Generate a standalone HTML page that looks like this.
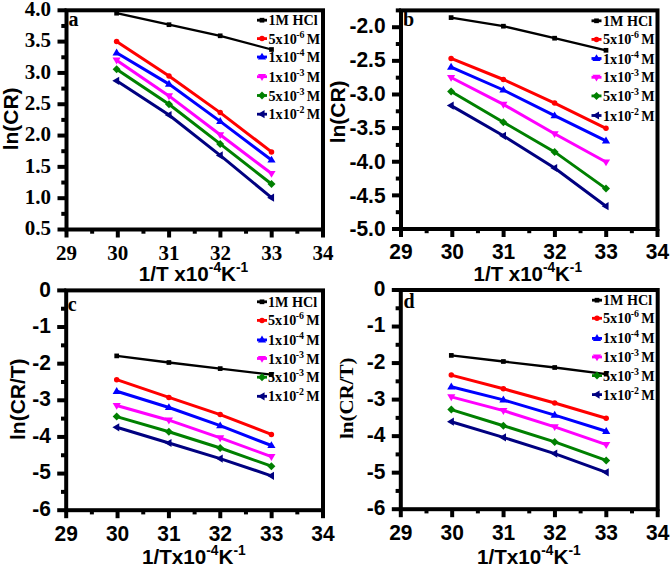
<!DOCTYPE html>
<html><head><meta charset="utf-8"><style>
html,body{margin:0;padding:0;background:#fff;}
svg{display:block;}
</style></head><body>
<svg width="671" height="567" viewBox="0 0 671 567">
<rect width="671" height="567" fill="#fff"/>
<path d="M116.60,13.20 L169.00,24.70 L220.20,35.80 L271.50,49.50" stroke="#000000" stroke-width="2.3" fill="none"/>
<rect x="114.25" y="10.85" width="4.70" height="4.70" fill="#000000"/>
<rect x="166.65" y="22.35" width="4.70" height="4.70" fill="#000000"/>
<rect x="217.85" y="33.45" width="4.70" height="4.70" fill="#000000"/>
<rect x="269.15" y="47.15" width="4.70" height="4.70" fill="#000000"/>
<path d="M116.60,41.60 L169.00,76.10 L220.20,112.60 L271.50,151.90" stroke="#ff0000" stroke-width="3.0" fill="none"/>
<circle cx="116.60" cy="41.60" r="2.75" fill="#ff0000"/>
<circle cx="169.00" cy="76.10" r="2.75" fill="#ff0000"/>
<circle cx="220.20" cy="112.60" r="2.75" fill="#ff0000"/>
<circle cx="271.50" cy="151.90" r="2.75" fill="#ff0000"/>
<path d="M116.60,52.80 L169.00,84.10 L220.20,121.40 L271.50,160.00" stroke="#0000ff" stroke-width="3.0" fill="none"/>
<path d="M116.60,48.50 L120.68,55.38 L112.52,55.38Z" fill="#0000ff"/>
<path d="M169.00,79.80 L173.09,86.68 L164.91,86.68Z" fill="#0000ff"/>
<path d="M220.20,117.10 L224.28,123.98 L216.11,123.98Z" fill="#0000ff"/>
<path d="M271.50,155.70 L275.58,162.58 L267.42,162.58Z" fill="#0000ff"/>
<path d="M116.60,60.20 L169.00,95.90 L220.20,134.80 L271.50,173.50" stroke="#ff00ff" stroke-width="3.0" fill="none"/>
<path d="M116.60,64.50 L120.68,57.62 L112.52,57.62Z" fill="#ff00ff"/>
<path d="M169.00,100.20 L173.09,93.32 L164.91,93.32Z" fill="#ff00ff"/>
<path d="M220.20,139.10 L224.28,132.22 L216.11,132.22Z" fill="#ff00ff"/>
<path d="M271.50,177.80 L275.58,170.92 L267.42,170.92Z" fill="#ff00ff"/>
<path d="M116.60,69.20 L169.00,104.30 L220.20,143.90 L271.50,184.00" stroke="#008000" stroke-width="3.0" fill="none"/>
<path d="M116.60,65.20 L120.60,69.20 L116.60,73.20 L112.60,69.20Z" fill="#008000"/>
<path d="M169.00,100.30 L173.00,104.30 L169.00,108.30 L165.00,104.30Z" fill="#008000"/>
<path d="M220.20,139.90 L224.20,143.90 L220.20,147.90 L216.20,143.90Z" fill="#008000"/>
<path d="M271.50,180.00 L275.50,184.00 L271.50,188.00 L267.50,184.00Z" fill="#008000"/>
<path d="M116.60,80.80 L169.00,115.00 L220.20,155.40 L271.50,197.70" stroke="#000080" stroke-width="3.0" fill="none"/>
<path d="M112.30,80.80 L119.18,76.72 L119.18,84.88Z" fill="#000080"/>
<path d="M164.70,115.00 L171.58,110.92 L171.58,119.08Z" fill="#000080"/>
<path d="M215.90,155.40 L222.78,151.31 L222.78,159.49Z" fill="#000080"/>
<path d="M267.20,197.70 L274.08,193.61 L274.08,201.78Z" fill="#000080"/>
<rect x="66.50" y="10.30" width="256.50" height="219.20" fill="none" stroke="#000" stroke-width="4.0" stroke-linecap="square"/>
<line x1="66.50" y1="229.50" x2="66.50" y2="237.50" stroke="#000" stroke-width="4.0"/>
<line x1="92.15" y1="229.50" x2="92.15" y2="233.70" stroke="#000" stroke-width="4.0"/>
<line x1="117.80" y1="229.50" x2="117.80" y2="237.50" stroke="#000" stroke-width="4.0"/>
<line x1="143.45" y1="229.50" x2="143.45" y2="233.70" stroke="#000" stroke-width="4.0"/>
<line x1="169.10" y1="229.50" x2="169.10" y2="237.50" stroke="#000" stroke-width="4.0"/>
<line x1="194.75" y1="229.50" x2="194.75" y2="233.70" stroke="#000" stroke-width="4.0"/>
<line x1="220.40" y1="229.50" x2="220.40" y2="237.50" stroke="#000" stroke-width="4.0"/>
<line x1="246.05" y1="229.50" x2="246.05" y2="233.70" stroke="#000" stroke-width="4.0"/>
<line x1="271.70" y1="229.50" x2="271.70" y2="237.50" stroke="#000" stroke-width="4.0"/>
<line x1="297.35" y1="229.50" x2="297.35" y2="233.70" stroke="#000" stroke-width="4.0"/>
<line x1="323.00" y1="229.50" x2="323.00" y2="237.50" stroke="#000" stroke-width="4.0"/>
<line x1="66.50" y1="229.50" x2="57.50" y2="229.50" stroke="#000" stroke-width="4.0"/>
<text transform="translate(51.00,235.35) scale(1.0,1)" text-anchor="end" font-family="'Liberation Serif', serif" font-weight="bold" font-size="21">0.5</text>
<line x1="66.50" y1="213.84" x2="61.30" y2="213.84" stroke="#000" stroke-width="4.0"/>
<line x1="66.50" y1="198.19" x2="57.50" y2="198.19" stroke="#000" stroke-width="4.0"/>
<text transform="translate(51.00,204.01) scale(1.0,1)" text-anchor="end" font-family="'Liberation Serif', serif" font-weight="bold" font-size="21">1.0</text>
<line x1="66.50" y1="182.53" x2="61.30" y2="182.53" stroke="#000" stroke-width="4.0"/>
<line x1="66.50" y1="166.87" x2="57.50" y2="166.87" stroke="#000" stroke-width="4.0"/>
<text transform="translate(51.00,172.66) scale(1.0,1)" text-anchor="end" font-family="'Liberation Serif', serif" font-weight="bold" font-size="21">1.5</text>
<line x1="66.50" y1="151.21" x2="61.30" y2="151.21" stroke="#000" stroke-width="4.0"/>
<line x1="66.50" y1="135.56" x2="57.50" y2="135.56" stroke="#000" stroke-width="4.0"/>
<text transform="translate(51.00,141.32) scale(1.0,1)" text-anchor="end" font-family="'Liberation Serif', serif" font-weight="bold" font-size="21">2.0</text>
<line x1="66.50" y1="119.90" x2="61.30" y2="119.90" stroke="#000" stroke-width="4.0"/>
<line x1="66.50" y1="104.24" x2="57.50" y2="104.24" stroke="#000" stroke-width="4.0"/>
<text transform="translate(51.00,109.98) scale(1.0,1)" text-anchor="end" font-family="'Liberation Serif', serif" font-weight="bold" font-size="21">2.5</text>
<line x1="66.50" y1="88.59" x2="61.30" y2="88.59" stroke="#000" stroke-width="4.0"/>
<line x1="66.50" y1="72.93" x2="57.50" y2="72.93" stroke="#000" stroke-width="4.0"/>
<text transform="translate(51.00,78.64) scale(1.0,1)" text-anchor="end" font-family="'Liberation Serif', serif" font-weight="bold" font-size="21">3.0</text>
<line x1="66.50" y1="57.27" x2="61.30" y2="57.27" stroke="#000" stroke-width="4.0"/>
<line x1="66.50" y1="41.61" x2="57.50" y2="41.61" stroke="#000" stroke-width="4.0"/>
<text transform="translate(51.00,47.29) scale(1.0,1)" text-anchor="end" font-family="'Liberation Serif', serif" font-weight="bold" font-size="21">3.5</text>
<line x1="66.50" y1="25.96" x2="61.30" y2="25.96" stroke="#000" stroke-width="4.0"/>
<line x1="66.50" y1="10.30" x2="57.50" y2="10.30" stroke="#000" stroke-width="4.0"/>
<text transform="translate(51.00,15.95) scale(1.0,1)" text-anchor="end" font-family="'Liberation Serif', serif" font-weight="bold" font-size="21">4.0</text>
<text transform="translate(66.50,259.80) scale(1.0,1)" text-anchor="middle" font-family="'Liberation Serif', serif" font-weight="bold" font-size="21">29</text>
<text transform="translate(117.80,259.80) scale(1.0,1)" text-anchor="middle" font-family="'Liberation Serif', serif" font-weight="bold" font-size="21">30</text>
<text transform="translate(169.10,259.80) scale(1.0,1)" text-anchor="middle" font-family="'Liberation Serif', serif" font-weight="bold" font-size="21">31</text>
<text transform="translate(220.40,259.80) scale(1.0,1)" text-anchor="middle" font-family="'Liberation Serif', serif" font-weight="bold" font-size="21">32</text>
<text transform="translate(271.70,259.80) scale(1.0,1)" text-anchor="middle" font-family="'Liberation Serif', serif" font-weight="bold" font-size="21">33</text>
<text transform="translate(323.00,259.80) scale(1.0,1)" text-anchor="middle" font-family="'Liberation Serif', serif" font-weight="bold" font-size="21">34</text>
<text transform="translate(193.50,281.00) scale(0.985,1)" text-anchor="middle" font-family="'Liberation Sans', sans-serif" font-weight="bold" font-size="21">1/T x10<tspan font-size="14" dy="-9.5">-4</tspan><tspan dy="9.5">K</tspan><tspan font-size="14" dy="-9.5">-1</tspan></text>
<text transform="translate(11.20,118.90) rotate(-90) scale(1,0.94)" text-anchor="middle" dominant-baseline="central" font-family="'Liberation Sans', sans-serif" font-weight="bold" font-size="21">ln(CR)</text>
<text x="68.50" y="26.00" font-family="'Liberation Serif', serif" font-weight="bold" font-size="20">a</text>
<line x1="257.00" y1="20.20" x2="267.00" y2="20.20" stroke="#000000" stroke-width="2.8"/>
<rect x="259.65" y="17.85" width="4.70" height="4.70" fill="#000000"/>
<text transform="translate(268.50,25.20) scale(0.945,1)" font-family="'Liberation Serif', serif" font-weight="bold" font-size="15">1M HCl</text>
<line x1="257.00" y1="38.60" x2="267.00" y2="38.60" stroke="#ff0000" stroke-width="2.8"/>
<circle cx="262.00" cy="38.60" r="2.75" fill="#ff0000"/>
<text transform="translate(268.50,43.60) scale(0.945,1)" font-family="'Liberation Serif', serif" font-weight="bold" font-size="15">5x10<tspan font-size="10.5" dy="-6" dx="-0.7">-6</tspan><tspan dy="6" dx="-1.3"> M</tspan></text>
<line x1="257.00" y1="57.00" x2="267.00" y2="57.00" stroke="#0000ff" stroke-width="2.8"/>
<path d="M262.00,52.70 L266.08,59.58 L257.92,59.58Z" fill="#0000ff"/>
<text transform="translate(268.50,62.00) scale(0.945,1)" font-family="'Liberation Serif', serif" font-weight="bold" font-size="15">1x10<tspan font-size="10.5" dy="-6" dx="-0.7">-4</tspan><tspan dy="6" dx="-1.3"> M</tspan></text>
<line x1="257.00" y1="76.70" x2="267.00" y2="76.70" stroke="#ff00ff" stroke-width="2.8"/>
<path d="M262.00,81.00 L266.08,74.12 L257.92,74.12Z" fill="#ff00ff"/>
<text transform="translate(268.50,81.70) scale(0.945,1)" font-family="'Liberation Serif', serif" font-weight="bold" font-size="15">1x10<tspan font-size="10.5" dy="-6" dx="-0.7">-3</tspan><tspan dy="6" dx="-1.3"> M</tspan></text>
<line x1="257.00" y1="95.50" x2="267.00" y2="95.50" stroke="#008000" stroke-width="2.8"/>
<path d="M262.00,91.50 L266.00,95.50 L262.00,99.50 L258.00,95.50Z" fill="#008000"/>
<text transform="translate(268.50,100.50) scale(0.945,1)" font-family="'Liberation Serif', serif" font-weight="bold" font-size="15">5x10<tspan font-size="10.5" dy="-6" dx="-0.7">-3</tspan><tspan dy="6" dx="-1.3"> M</tspan></text>
<line x1="257.00" y1="114.20" x2="267.00" y2="114.20" stroke="#000080" stroke-width="2.8"/>
<path d="M257.70,114.20 L264.58,110.12 L264.58,118.28Z" fill="#000080"/>
<text transform="translate(268.50,119.20) scale(0.945,1)" font-family="'Liberation Serif', serif" font-weight="bold" font-size="15">1x10<tspan font-size="10.5" dy="-6" dx="-0.7">-2</tspan><tspan dy="6" dx="-1.3"> M</tspan></text>
<path d="M451.10,17.60 L503.40,26.20 L554.60,38.20 L606.00,50.30" stroke="#000000" stroke-width="2.3" fill="none"/>
<rect x="448.75" y="15.25" width="4.70" height="4.70" fill="#000000"/>
<rect x="501.05" y="23.85" width="4.70" height="4.70" fill="#000000"/>
<rect x="552.25" y="35.85" width="4.70" height="4.70" fill="#000000"/>
<rect x="603.65" y="47.95" width="4.70" height="4.70" fill="#000000"/>
<path d="M451.10,58.40 L503.40,79.50 L554.60,103.10 L606.00,128.30" stroke="#ff0000" stroke-width="3.0" fill="none"/>
<circle cx="451.10" cy="58.40" r="2.75" fill="#ff0000"/>
<circle cx="503.40" cy="79.50" r="2.75" fill="#ff0000"/>
<circle cx="554.60" cy="103.10" r="2.75" fill="#ff0000"/>
<circle cx="606.00" cy="128.30" r="2.75" fill="#ff0000"/>
<path d="M451.10,67.10 L503.40,90.00 L554.60,115.70 L606.00,140.80" stroke="#0000ff" stroke-width="3.0" fill="none"/>
<path d="M451.10,62.80 L455.19,69.68 L447.02,69.68Z" fill="#0000ff"/>
<path d="M503.40,85.70 L507.48,92.58 L499.31,92.58Z" fill="#0000ff"/>
<path d="M554.60,111.40 L558.69,118.28 L550.51,118.28Z" fill="#0000ff"/>
<path d="M606.00,136.50 L610.09,143.38 L601.91,143.38Z" fill="#0000ff"/>
<path d="M451.10,77.50 L503.40,104.40 L554.60,133.80 L606.00,162.00" stroke="#ff00ff" stroke-width="3.0" fill="none"/>
<path d="M451.10,81.80 L455.19,74.92 L447.02,74.92Z" fill="#ff00ff"/>
<path d="M503.40,108.70 L507.48,101.82 L499.31,101.82Z" fill="#ff00ff"/>
<path d="M554.60,138.10 L558.69,131.22 L550.51,131.22Z" fill="#ff00ff"/>
<path d="M606.00,166.30 L610.09,159.42 L601.91,159.42Z" fill="#ff00ff"/>
<path d="M451.10,91.50 L503.40,122.20 L554.60,151.90 L606.00,188.60" stroke="#008000" stroke-width="3.0" fill="none"/>
<path d="M451.10,87.50 L455.10,91.50 L451.10,95.50 L447.10,91.50Z" fill="#008000"/>
<path d="M503.40,118.20 L507.40,122.20 L503.40,126.20 L499.40,122.20Z" fill="#008000"/>
<path d="M554.60,147.90 L558.60,151.90 L554.60,155.90 L550.60,151.90Z" fill="#008000"/>
<path d="M606.00,184.60 L610.00,188.60 L606.00,192.60 L602.00,188.60Z" fill="#008000"/>
<path d="M451.10,105.60 L503.40,135.80 L554.60,168.00 L606.00,206.20" stroke="#000080" stroke-width="3.0" fill="none"/>
<path d="M446.80,105.60 L453.68,101.52 L453.68,109.68Z" fill="#000080"/>
<path d="M499.10,135.80 L505.98,131.72 L505.98,139.89Z" fill="#000080"/>
<path d="M550.30,168.00 L557.18,163.91 L557.18,172.09Z" fill="#000080"/>
<path d="M601.70,206.20 L608.58,202.11 L608.58,210.28Z" fill="#000080"/>
<rect x="401.00" y="10.40" width="256.50" height="218.60" fill="none" stroke="#000" stroke-width="4.0" stroke-linecap="square"/>
<line x1="401.00" y1="229.00" x2="401.00" y2="237.00" stroke="#000" stroke-width="4.0"/>
<line x1="426.65" y1="229.00" x2="426.65" y2="233.20" stroke="#000" stroke-width="4.0"/>
<line x1="452.30" y1="229.00" x2="452.30" y2="237.00" stroke="#000" stroke-width="4.0"/>
<line x1="477.95" y1="229.00" x2="477.95" y2="233.20" stroke="#000" stroke-width="4.0"/>
<line x1="503.60" y1="229.00" x2="503.60" y2="237.00" stroke="#000" stroke-width="4.0"/>
<line x1="529.25" y1="229.00" x2="529.25" y2="233.20" stroke="#000" stroke-width="4.0"/>
<line x1="554.90" y1="229.00" x2="554.90" y2="237.00" stroke="#000" stroke-width="4.0"/>
<line x1="580.55" y1="229.00" x2="580.55" y2="233.20" stroke="#000" stroke-width="4.0"/>
<line x1="606.20" y1="229.00" x2="606.20" y2="237.00" stroke="#000" stroke-width="4.0"/>
<line x1="631.85" y1="229.00" x2="631.85" y2="233.20" stroke="#000" stroke-width="4.0"/>
<line x1="657.50" y1="229.00" x2="657.50" y2="237.00" stroke="#000" stroke-width="4.0"/>
<line x1="401.00" y1="229.00" x2="392.00" y2="229.00" stroke="#000" stroke-width="4.0"/>
<text transform="translate(385.60,236.39) scale(0.975,1)" text-anchor="end" font-family="'Liberation Sans', sans-serif" font-weight="bold" font-size="21.5">-5.0</text>
<line x1="401.00" y1="212.18" x2="395.80" y2="212.18" stroke="#000" stroke-width="4.0"/>
<line x1="401.00" y1="195.37" x2="392.00" y2="195.37" stroke="#000" stroke-width="4.0"/>
<text transform="translate(385.60,202.53) scale(0.975,1)" text-anchor="end" font-family="'Liberation Sans', sans-serif" font-weight="bold" font-size="21.5">-4.5</text>
<line x1="401.00" y1="178.55" x2="395.80" y2="178.55" stroke="#000" stroke-width="4.0"/>
<line x1="401.00" y1="161.74" x2="392.00" y2="161.74" stroke="#000" stroke-width="4.0"/>
<text transform="translate(385.60,168.66) scale(0.975,1)" text-anchor="end" font-family="'Liberation Sans', sans-serif" font-weight="bold" font-size="21.5">-4.0</text>
<line x1="401.00" y1="144.92" x2="395.80" y2="144.92" stroke="#000" stroke-width="4.0"/>
<line x1="401.00" y1="128.11" x2="392.00" y2="128.11" stroke="#000" stroke-width="4.0"/>
<text transform="translate(385.60,134.80) scale(0.975,1)" text-anchor="end" font-family="'Liberation Sans', sans-serif" font-weight="bold" font-size="21.5">-3.5</text>
<line x1="401.00" y1="111.29" x2="395.80" y2="111.29" stroke="#000" stroke-width="4.0"/>
<line x1="401.00" y1="94.48" x2="392.00" y2="94.48" stroke="#000" stroke-width="4.0"/>
<text transform="translate(385.60,100.93) scale(0.975,1)" text-anchor="end" font-family="'Liberation Sans', sans-serif" font-weight="bold" font-size="21.5">-3.0</text>
<line x1="401.00" y1="77.66" x2="395.80" y2="77.66" stroke="#000" stroke-width="4.0"/>
<line x1="401.00" y1="60.85" x2="392.00" y2="60.85" stroke="#000" stroke-width="4.0"/>
<text transform="translate(385.60,67.07) scale(0.975,1)" text-anchor="end" font-family="'Liberation Sans', sans-serif" font-weight="bold" font-size="21.5">-2.5</text>
<line x1="401.00" y1="44.03" x2="395.80" y2="44.03" stroke="#000" stroke-width="4.0"/>
<line x1="401.00" y1="27.22" x2="392.00" y2="27.22" stroke="#000" stroke-width="4.0"/>
<text transform="translate(385.60,33.21) scale(0.975,1)" text-anchor="end" font-family="'Liberation Sans', sans-serif" font-weight="bold" font-size="21.5">-2.0</text>
<line x1="401.00" y1="10.40" x2="395.80" y2="10.40" stroke="#000" stroke-width="4.0"/>
<text transform="translate(401.00,259.40) scale(0.975,1)" text-anchor="middle" font-family="'Liberation Sans', sans-serif" font-weight="bold" font-size="21.5">29</text>
<text transform="translate(452.30,259.40) scale(0.975,1)" text-anchor="middle" font-family="'Liberation Sans', sans-serif" font-weight="bold" font-size="21.5">30</text>
<text transform="translate(503.60,259.40) scale(0.975,1)" text-anchor="middle" font-family="'Liberation Sans', sans-serif" font-weight="bold" font-size="21.5">31</text>
<text transform="translate(554.90,259.40) scale(0.975,1)" text-anchor="middle" font-family="'Liberation Sans', sans-serif" font-weight="bold" font-size="21.5">32</text>
<text transform="translate(606.20,259.40) scale(0.975,1)" text-anchor="middle" font-family="'Liberation Sans', sans-serif" font-weight="bold" font-size="21.5">33</text>
<text transform="translate(657.50,259.40) scale(0.975,1)" text-anchor="middle" font-family="'Liberation Sans', sans-serif" font-weight="bold" font-size="21.5">34</text>
<text transform="translate(527.80,281.00) scale(0.975,1)" text-anchor="middle" font-family="'Liberation Sans', sans-serif" font-weight="bold" font-size="21">1/T x10<tspan font-size="14" dy="-9.5">-4</tspan><tspan dy="9.5">K</tspan><tspan font-size="14" dy="-9.5">-1</tspan></text>
<text transform="translate(338.60,111.90) rotate(-90) scale(1,0.94)" text-anchor="middle" dominant-baseline="central" font-family="'Liberation Sans', sans-serif" font-weight="bold" font-size="21">ln(CR)</text>
<text x="403.00" y="26.00" font-family="'Liberation Serif', serif" font-weight="bold" font-size="20">b</text>
<line x1="591.50" y1="20.80" x2="601.50" y2="20.80" stroke="#000000" stroke-width="2.8"/>
<rect x="594.15" y="18.45" width="4.70" height="4.70" fill="#000000"/>
<text transform="translate(603.00,25.80) scale(0.945,1)" font-family="'Liberation Serif', serif" font-weight="bold" font-size="15">1M HCl</text>
<line x1="591.50" y1="39.40" x2="601.50" y2="39.40" stroke="#ff0000" stroke-width="2.8"/>
<circle cx="596.50" cy="39.40" r="2.75" fill="#ff0000"/>
<text transform="translate(603.00,44.40) scale(0.945,1)" font-family="'Liberation Serif', serif" font-weight="bold" font-size="15">5x10<tspan font-size="10.5" dy="-6" dx="-0.7">-6</tspan><tspan dy="6" dx="-1.3"> M</tspan></text>
<line x1="591.50" y1="58.50" x2="601.50" y2="58.50" stroke="#0000ff" stroke-width="2.8"/>
<path d="M596.50,54.20 L600.59,61.08 L592.41,61.08Z" fill="#0000ff"/>
<text transform="translate(603.00,63.50) scale(0.945,1)" font-family="'Liberation Serif', serif" font-weight="bold" font-size="15">1x10<tspan font-size="10.5" dy="-6" dx="-0.7">-4</tspan><tspan dy="6" dx="-1.3"> M</tspan></text>
<line x1="591.50" y1="77.30" x2="601.50" y2="77.30" stroke="#ff00ff" stroke-width="2.8"/>
<path d="M596.50,81.60 L600.59,74.72 L592.41,74.72Z" fill="#ff00ff"/>
<text transform="translate(603.00,82.30) scale(0.945,1)" font-family="'Liberation Serif', serif" font-weight="bold" font-size="15">1x10<tspan font-size="10.5" dy="-6" dx="-0.7">-3</tspan><tspan dy="6" dx="-1.3"> M</tspan></text>
<line x1="591.50" y1="95.90" x2="601.50" y2="95.90" stroke="#008000" stroke-width="2.8"/>
<path d="M596.50,91.90 L600.50,95.90 L596.50,99.90 L592.50,95.90Z" fill="#008000"/>
<text transform="translate(603.00,100.90) scale(0.945,1)" font-family="'Liberation Serif', serif" font-weight="bold" font-size="15">5x10<tspan font-size="10.5" dy="-6" dx="-0.7">-3</tspan><tspan dy="6" dx="-1.3"> M</tspan></text>
<line x1="591.50" y1="115.50" x2="601.50" y2="115.50" stroke="#000080" stroke-width="2.8"/>
<path d="M592.20,115.50 L599.08,111.42 L599.08,119.58Z" fill="#000080"/>
<text transform="translate(603.00,120.50) scale(0.945,1)" font-family="'Liberation Serif', serif" font-weight="bold" font-size="15">1x10<tspan font-size="10.5" dy="-6" dx="-0.7">-2</tspan><tspan dy="6" dx="-1.3"> M</tspan></text>
<path d="M116.70,355.90 L168.90,362.50 L220.20,368.60 L271.40,374.60" stroke="#000000" stroke-width="2.3" fill="none"/>
<rect x="114.35" y="353.55" width="4.70" height="4.70" fill="#000000"/>
<rect x="166.55" y="360.15" width="4.70" height="4.70" fill="#000000"/>
<rect x="217.85" y="366.25" width="4.70" height="4.70" fill="#000000"/>
<rect x="269.05" y="372.25" width="4.70" height="4.70" fill="#000000"/>
<path d="M116.70,379.70 L168.90,397.40 L220.20,414.60 L271.40,434.40" stroke="#ff0000" stroke-width="3.0" fill="none"/>
<circle cx="116.70" cy="379.70" r="2.75" fill="#ff0000"/>
<circle cx="168.90" cy="397.40" r="2.75" fill="#ff0000"/>
<circle cx="220.20" cy="414.60" r="2.75" fill="#ff0000"/>
<circle cx="271.40" cy="434.40" r="2.75" fill="#ff0000"/>
<path d="M116.70,391.30 L168.90,407.50 L220.20,425.70 L271.40,445.50" stroke="#0000ff" stroke-width="3.0" fill="none"/>
<path d="M116.70,387.00 L120.78,393.88 L112.62,393.88Z" fill="#0000ff"/>
<path d="M168.90,403.20 L172.99,410.08 L164.81,410.08Z" fill="#0000ff"/>
<path d="M220.20,421.40 L224.28,428.28 L216.11,428.28Z" fill="#0000ff"/>
<path d="M271.40,441.20 L275.48,448.08 L267.31,448.08Z" fill="#0000ff"/>
<path d="M116.70,405.50 L168.90,420.20 L220.20,437.90 L271.40,456.60" stroke="#ff00ff" stroke-width="3.0" fill="none"/>
<path d="M116.70,409.80 L120.78,402.92 L112.62,402.92Z" fill="#ff00ff"/>
<path d="M168.90,424.50 L172.99,417.62 L164.81,417.62Z" fill="#ff00ff"/>
<path d="M220.20,442.20 L224.28,435.32 L216.11,435.32Z" fill="#ff00ff"/>
<path d="M271.40,460.90 L275.48,454.02 L267.31,454.02Z" fill="#ff00ff"/>
<path d="M116.70,416.60 L168.90,431.80 L220.20,448.00 L271.40,466.20" stroke="#008000" stroke-width="3.0" fill="none"/>
<path d="M116.70,412.60 L120.70,416.60 L116.70,420.60 L112.70,416.60Z" fill="#008000"/>
<path d="M168.90,427.80 L172.90,431.80 L168.90,435.80 L164.90,431.80Z" fill="#008000"/>
<path d="M220.20,444.00 L224.20,448.00 L220.20,452.00 L216.20,448.00Z" fill="#008000"/>
<path d="M271.40,462.20 L275.40,466.20 L271.40,470.20 L267.40,466.20Z" fill="#008000"/>
<path d="M116.70,427.30 L168.90,443.00 L220.20,458.60 L271.40,475.80" stroke="#000080" stroke-width="3.0" fill="none"/>
<path d="M112.40,427.30 L119.28,423.22 L119.28,431.38Z" fill="#000080"/>
<path d="M164.60,443.00 L171.48,438.92 L171.48,447.08Z" fill="#000080"/>
<path d="M215.90,458.60 L222.78,454.52 L222.78,462.69Z" fill="#000080"/>
<path d="M267.10,475.80 L273.98,471.72 L273.98,479.88Z" fill="#000080"/>
<rect x="66.20" y="290.40" width="256.80" height="219.80" fill="none" stroke="#000" stroke-width="4.0" stroke-linecap="square"/>
<line x1="66.20" y1="510.20" x2="66.20" y2="518.20" stroke="#000" stroke-width="4.0"/>
<line x1="91.88" y1="510.20" x2="91.88" y2="514.40" stroke="#000" stroke-width="4.0"/>
<line x1="117.56" y1="510.20" x2="117.56" y2="518.20" stroke="#000" stroke-width="4.0"/>
<line x1="143.24" y1="510.20" x2="143.24" y2="514.40" stroke="#000" stroke-width="4.0"/>
<line x1="168.92" y1="510.20" x2="168.92" y2="518.20" stroke="#000" stroke-width="4.0"/>
<line x1="194.60" y1="510.20" x2="194.60" y2="514.40" stroke="#000" stroke-width="4.0"/>
<line x1="220.28" y1="510.20" x2="220.28" y2="518.20" stroke="#000" stroke-width="4.0"/>
<line x1="245.96" y1="510.20" x2="245.96" y2="514.40" stroke="#000" stroke-width="4.0"/>
<line x1="271.64" y1="510.20" x2="271.64" y2="518.20" stroke="#000" stroke-width="4.0"/>
<line x1="297.32" y1="510.20" x2="297.32" y2="514.40" stroke="#000" stroke-width="4.0"/>
<line x1="323.00" y1="510.20" x2="323.00" y2="518.20" stroke="#000" stroke-width="4.0"/>
<line x1="66.20" y1="510.20" x2="57.20" y2="510.20" stroke="#000" stroke-width="4.0"/>
<text transform="translate(50.80,515.80) scale(0.975,1)" text-anchor="end" font-family="'Liberation Sans', sans-serif" font-weight="bold" font-size="21.5">-6</text>
<line x1="66.20" y1="491.88" x2="61.00" y2="491.88" stroke="#000" stroke-width="4.0"/>
<line x1="66.20" y1="473.57" x2="57.20" y2="473.57" stroke="#000" stroke-width="4.0"/>
<text transform="translate(50.80,479.29) scale(0.975,1)" text-anchor="end" font-family="'Liberation Sans', sans-serif" font-weight="bold" font-size="21.5">-5</text>
<line x1="66.20" y1="455.25" x2="61.00" y2="455.25" stroke="#000" stroke-width="4.0"/>
<line x1="66.20" y1="436.93" x2="57.20" y2="436.93" stroke="#000" stroke-width="4.0"/>
<text transform="translate(50.80,442.78) scale(0.975,1)" text-anchor="end" font-family="'Liberation Sans', sans-serif" font-weight="bold" font-size="21.5">-4</text>
<line x1="66.20" y1="418.62" x2="61.00" y2="418.62" stroke="#000" stroke-width="4.0"/>
<line x1="66.20" y1="400.30" x2="57.20" y2="400.30" stroke="#000" stroke-width="4.0"/>
<text transform="translate(50.80,406.27) scale(0.975,1)" text-anchor="end" font-family="'Liberation Sans', sans-serif" font-weight="bold" font-size="21.5">-3</text>
<line x1="66.20" y1="381.98" x2="61.00" y2="381.98" stroke="#000" stroke-width="4.0"/>
<line x1="66.20" y1="363.67" x2="57.20" y2="363.67" stroke="#000" stroke-width="4.0"/>
<text transform="translate(50.80,369.77) scale(0.975,1)" text-anchor="end" font-family="'Liberation Sans', sans-serif" font-weight="bold" font-size="21.5">-2</text>
<line x1="66.20" y1="345.35" x2="61.00" y2="345.35" stroke="#000" stroke-width="4.0"/>
<line x1="66.20" y1="327.03" x2="57.20" y2="327.03" stroke="#000" stroke-width="4.0"/>
<text transform="translate(50.80,333.26) scale(0.975,1)" text-anchor="end" font-family="'Liberation Sans', sans-serif" font-weight="bold" font-size="21.5">-1</text>
<line x1="66.20" y1="308.72" x2="61.00" y2="308.72" stroke="#000" stroke-width="4.0"/>
<line x1="66.20" y1="290.40" x2="57.20" y2="290.40" stroke="#000" stroke-width="4.0"/>
<text transform="translate(50.80,296.75) scale(0.975,1)" text-anchor="end" font-family="'Liberation Sans', sans-serif" font-weight="bold" font-size="21.5">0</text>
<text transform="translate(66.20,540.50) scale(0.975,1)" text-anchor="middle" font-family="'Liberation Sans', sans-serif" font-weight="bold" font-size="21.5">29</text>
<text transform="translate(117.56,540.50) scale(0.975,1)" text-anchor="middle" font-family="'Liberation Sans', sans-serif" font-weight="bold" font-size="21.5">30</text>
<text transform="translate(168.92,540.50) scale(0.975,1)" text-anchor="middle" font-family="'Liberation Sans', sans-serif" font-weight="bold" font-size="21.5">31</text>
<text transform="translate(220.28,540.50) scale(0.975,1)" text-anchor="middle" font-family="'Liberation Sans', sans-serif" font-weight="bold" font-size="21.5">32</text>
<text transform="translate(271.64,540.50) scale(0.975,1)" text-anchor="middle" font-family="'Liberation Sans', sans-serif" font-weight="bold" font-size="21.5">33</text>
<text transform="translate(323.00,540.50) scale(0.975,1)" text-anchor="middle" font-family="'Liberation Sans', sans-serif" font-weight="bold" font-size="21.5">34</text>
<text transform="translate(193.80,564.20) scale(0.985,1)" text-anchor="middle" font-family="'Liberation Sans', sans-serif" font-weight="bold" font-size="21">1/Tx10<tspan font-size="14" dy="-9.5">-4</tspan><tspan dy="9.5">K</tspan><tspan font-size="14" dy="-9.5">-1</tspan></text>
<text transform="translate(18.00,399.20) rotate(-90) scale(1,0.94)" text-anchor="middle" dominant-baseline="central" font-family="'Liberation Sans', sans-serif" font-weight="bold" font-size="21">ln(CR/T)</text>
<text x="67.80" y="310.60" font-family="'Liberation Serif', serif" font-weight="bold" font-size="20">c</text>
<line x1="257.00" y1="301.80" x2="267.00" y2="301.80" stroke="#000000" stroke-width="2.8"/>
<rect x="259.65" y="299.45" width="4.70" height="4.70" fill="#000000"/>
<text transform="translate(268.00,306.80) scale(0.945,1)" font-family="'Liberation Serif', serif" font-weight="bold" font-size="15">1M HCl</text>
<line x1="257.00" y1="320.40" x2="267.00" y2="320.40" stroke="#ff0000" stroke-width="2.8"/>
<circle cx="262.00" cy="320.40" r="2.75" fill="#ff0000"/>
<text transform="translate(268.00,325.40) scale(0.945,1)" font-family="'Liberation Serif', serif" font-weight="bold" font-size="15">5x10<tspan font-size="10.5" dy="-6" dx="-0.7">-6</tspan><tspan dy="6" dx="-1.3"> M</tspan></text>
<line x1="257.00" y1="339.90" x2="267.00" y2="339.90" stroke="#0000ff" stroke-width="2.8"/>
<path d="M262.00,335.60 L266.08,342.48 L257.92,342.48Z" fill="#0000ff"/>
<text transform="translate(268.00,344.90) scale(0.945,1)" font-family="'Liberation Serif', serif" font-weight="bold" font-size="15">1x10<tspan font-size="10.5" dy="-6" dx="-0.7">-4</tspan><tspan dy="6" dx="-1.3"> M</tspan></text>
<line x1="257.00" y1="358.50" x2="267.00" y2="358.50" stroke="#ff00ff" stroke-width="2.8"/>
<path d="M262.00,362.80 L266.08,355.92 L257.92,355.92Z" fill="#ff00ff"/>
<text transform="translate(268.00,363.50) scale(0.945,1)" font-family="'Liberation Serif', serif" font-weight="bold" font-size="15">1x10<tspan font-size="10.5" dy="-6" dx="-0.7">-3</tspan><tspan dy="6" dx="-1.3"> M</tspan></text>
<line x1="257.00" y1="377.20" x2="267.00" y2="377.20" stroke="#008000" stroke-width="2.8"/>
<path d="M262.00,373.20 L266.00,377.20 L262.00,381.20 L258.00,377.20Z" fill="#008000"/>
<text transform="translate(268.00,382.20) scale(0.945,1)" font-family="'Liberation Serif', serif" font-weight="bold" font-size="15">5x10<tspan font-size="10.5" dy="-6" dx="-0.7">-3</tspan><tspan dy="6" dx="-1.3"> M</tspan></text>
<line x1="257.00" y1="396.30" x2="267.00" y2="396.30" stroke="#000080" stroke-width="2.8"/>
<path d="M257.70,396.30 L264.58,392.22 L264.58,400.38Z" fill="#000080"/>
<text transform="translate(268.00,401.30) scale(0.945,1)" font-family="'Liberation Serif', serif" font-weight="bold" font-size="15">1x10<tspan font-size="10.5" dy="-6" dx="-0.7">-2</tspan><tspan dy="6" dx="-1.3"> M</tspan></text>
<path d="M451.30,355.40 L503.40,361.50 L554.70,367.50 L606.20,374.10" stroke="#000000" stroke-width="2.3" fill="none"/>
<rect x="448.95" y="353.05" width="4.70" height="4.70" fill="#000000"/>
<rect x="501.05" y="359.15" width="4.70" height="4.70" fill="#000000"/>
<rect x="552.35" y="365.15" width="4.70" height="4.70" fill="#000000"/>
<rect x="603.85" y="371.75" width="4.70" height="4.70" fill="#000000"/>
<path d="M451.30,375.10 L503.40,388.80 L554.70,403.00 L606.20,418.20" stroke="#ff0000" stroke-width="3.0" fill="none"/>
<circle cx="451.30" cy="375.10" r="2.75" fill="#ff0000"/>
<circle cx="503.40" cy="388.80" r="2.75" fill="#ff0000"/>
<circle cx="554.70" cy="403.00" r="2.75" fill="#ff0000"/>
<circle cx="606.20" cy="418.20" r="2.75" fill="#ff0000"/>
<path d="M451.30,386.80 L503.40,399.90 L554.70,415.10 L606.20,431.30" stroke="#0000ff" stroke-width="3.0" fill="none"/>
<path d="M451.30,382.50 L455.38,389.38 L447.22,389.38Z" fill="#0000ff"/>
<path d="M503.40,395.60 L507.48,402.48 L499.31,402.48Z" fill="#0000ff"/>
<path d="M554.70,410.80 L558.79,417.68 L550.62,417.68Z" fill="#0000ff"/>
<path d="M606.20,427.00 L610.29,433.88 L602.12,433.88Z" fill="#0000ff"/>
<path d="M451.30,396.90 L503.40,410.60 L554.70,426.80 L606.20,444.70" stroke="#ff00ff" stroke-width="3.0" fill="none"/>
<path d="M451.30,401.20 L455.38,394.32 L447.22,394.32Z" fill="#ff00ff"/>
<path d="M503.40,414.90 L507.48,408.02 L499.31,408.02Z" fill="#ff00ff"/>
<path d="M554.70,431.10 L558.79,424.22 L550.62,424.22Z" fill="#ff00ff"/>
<path d="M606.20,449.00 L610.29,442.12 L602.12,442.12Z" fill="#ff00ff"/>
<path d="M451.30,409.60 L503.40,425.70 L554.70,441.90 L606.20,460.40" stroke="#008000" stroke-width="3.0" fill="none"/>
<path d="M451.30,405.60 L455.30,409.60 L451.30,413.60 L447.30,409.60Z" fill="#008000"/>
<path d="M503.40,421.70 L507.40,425.70 L503.40,429.70 L499.40,425.70Z" fill="#008000"/>
<path d="M554.70,437.90 L558.70,441.90 L554.70,445.90 L550.70,441.90Z" fill="#008000"/>
<path d="M606.20,456.40 L610.20,460.40 L606.20,464.40 L602.20,460.40Z" fill="#008000"/>
<path d="M451.30,421.70 L503.40,437.40 L554.70,453.60 L606.20,472.30" stroke="#000080" stroke-width="3.0" fill="none"/>
<path d="M447.00,421.70 L453.88,417.62 L453.88,425.78Z" fill="#000080"/>
<path d="M499.10,437.40 L505.98,433.31 L505.98,441.48Z" fill="#000080"/>
<path d="M550.40,453.60 L557.28,449.52 L557.28,457.69Z" fill="#000080"/>
<path d="M601.90,472.30 L608.78,468.22 L608.78,476.38Z" fill="#000080"/>
<rect x="400.80" y="290.00" width="256.90" height="219.20" fill="none" stroke="#000" stroke-width="4.0" stroke-linecap="square"/>
<line x1="400.80" y1="509.20" x2="400.80" y2="517.20" stroke="#000" stroke-width="4.0"/>
<line x1="426.49" y1="509.20" x2="426.49" y2="513.40" stroke="#000" stroke-width="4.0"/>
<line x1="452.18" y1="509.20" x2="452.18" y2="517.20" stroke="#000" stroke-width="4.0"/>
<line x1="477.87" y1="509.20" x2="477.87" y2="513.40" stroke="#000" stroke-width="4.0"/>
<line x1="503.56" y1="509.20" x2="503.56" y2="517.20" stroke="#000" stroke-width="4.0"/>
<line x1="529.25" y1="509.20" x2="529.25" y2="513.40" stroke="#000" stroke-width="4.0"/>
<line x1="554.94" y1="509.20" x2="554.94" y2="517.20" stroke="#000" stroke-width="4.0"/>
<line x1="580.63" y1="509.20" x2="580.63" y2="513.40" stroke="#000" stroke-width="4.0"/>
<line x1="606.32" y1="509.20" x2="606.32" y2="517.20" stroke="#000" stroke-width="4.0"/>
<line x1="632.01" y1="509.20" x2="632.01" y2="513.40" stroke="#000" stroke-width="4.0"/>
<line x1="657.70" y1="509.20" x2="657.70" y2="517.20" stroke="#000" stroke-width="4.0"/>
<line x1="400.80" y1="509.20" x2="391.80" y2="509.20" stroke="#000" stroke-width="4.0"/>
<text transform="translate(385.30,515.30) scale(0.975,1)" text-anchor="end" font-family="'Liberation Sans', sans-serif" font-weight="bold" font-size="21.5">-6</text>
<line x1="400.80" y1="490.93" x2="395.60" y2="490.93" stroke="#000" stroke-width="4.0"/>
<line x1="400.80" y1="472.67" x2="391.80" y2="472.67" stroke="#000" stroke-width="4.0"/>
<text transform="translate(385.30,478.73) scale(0.975,1)" text-anchor="end" font-family="'Liberation Sans', sans-serif" font-weight="bold" font-size="21.5">-5</text>
<line x1="400.80" y1="454.40" x2="395.60" y2="454.40" stroke="#000" stroke-width="4.0"/>
<line x1="400.80" y1="436.13" x2="391.80" y2="436.13" stroke="#000" stroke-width="4.0"/>
<text transform="translate(385.30,442.17) scale(0.975,1)" text-anchor="end" font-family="'Liberation Sans', sans-serif" font-weight="bold" font-size="21.5">-4</text>
<line x1="400.80" y1="417.87" x2="395.60" y2="417.87" stroke="#000" stroke-width="4.0"/>
<line x1="400.80" y1="399.60" x2="391.80" y2="399.60" stroke="#000" stroke-width="4.0"/>
<text transform="translate(385.30,405.60) scale(0.975,1)" text-anchor="end" font-family="'Liberation Sans', sans-serif" font-weight="bold" font-size="21.5">-3</text>
<line x1="400.80" y1="381.33" x2="395.60" y2="381.33" stroke="#000" stroke-width="4.0"/>
<line x1="400.80" y1="363.07" x2="391.80" y2="363.07" stroke="#000" stroke-width="4.0"/>
<text transform="translate(385.30,369.03) scale(0.975,1)" text-anchor="end" font-family="'Liberation Sans', sans-serif" font-weight="bold" font-size="21.5">-2</text>
<line x1="400.80" y1="344.80" x2="395.60" y2="344.80" stroke="#000" stroke-width="4.0"/>
<line x1="400.80" y1="326.53" x2="391.80" y2="326.53" stroke="#000" stroke-width="4.0"/>
<text transform="translate(385.30,332.47) scale(0.975,1)" text-anchor="end" font-family="'Liberation Sans', sans-serif" font-weight="bold" font-size="21.5">-1</text>
<line x1="400.80" y1="308.27" x2="395.60" y2="308.27" stroke="#000" stroke-width="4.0"/>
<line x1="400.80" y1="290.00" x2="391.80" y2="290.00" stroke="#000" stroke-width="4.0"/>
<text transform="translate(385.30,295.90) scale(0.975,1)" text-anchor="end" font-family="'Liberation Sans', sans-serif" font-weight="bold" font-size="21.5">0</text>
<text transform="translate(400.80,540.00) scale(0.975,1)" text-anchor="middle" font-family="'Liberation Sans', sans-serif" font-weight="bold" font-size="21.5">29</text>
<text transform="translate(452.18,540.00) scale(0.975,1)" text-anchor="middle" font-family="'Liberation Sans', sans-serif" font-weight="bold" font-size="21.5">30</text>
<text transform="translate(503.56,540.00) scale(0.975,1)" text-anchor="middle" font-family="'Liberation Sans', sans-serif" font-weight="bold" font-size="21.5">31</text>
<text transform="translate(554.94,540.00) scale(0.975,1)" text-anchor="middle" font-family="'Liberation Sans', sans-serif" font-weight="bold" font-size="21.5">32</text>
<text transform="translate(606.32,540.00) scale(0.975,1)" text-anchor="middle" font-family="'Liberation Sans', sans-serif" font-weight="bold" font-size="21.5">33</text>
<text transform="translate(657.70,540.00) scale(0.975,1)" text-anchor="middle" font-family="'Liberation Sans', sans-serif" font-weight="bold" font-size="21.5">34</text>
<text transform="translate(528.80,564.20) scale(0.985,1)" text-anchor="middle" font-family="'Liberation Sans', sans-serif" font-weight="bold" font-size="21">1/Tx10<tspan font-size="14" dy="-9.5">-4</tspan><tspan dy="9.5">K</tspan><tspan font-size="14" dy="-9.5">-1</tspan></text>
<text transform="translate(345.80,398.30) rotate(-90) scale(1,0.94)" text-anchor="middle" dominant-baseline="central" font-family="'Liberation Serif', serif" font-weight="bold" font-size="21">ln(CR/T)</text>
<text x="403.60" y="307.70" font-family="'Liberation Serif', serif" font-weight="bold" font-size="20">d</text>
<line x1="592.00" y1="300.20" x2="602.00" y2="300.20" stroke="#000000" stroke-width="2.8"/>
<rect x="594.65" y="297.85" width="4.70" height="4.70" fill="#000000"/>
<text transform="translate(603.00,305.20) scale(0.945,1)" font-family="'Liberation Serif', serif" font-weight="bold" font-size="15">1M HCl</text>
<line x1="592.00" y1="318.30" x2="602.00" y2="318.30" stroke="#ff0000" stroke-width="2.8"/>
<circle cx="597.00" cy="318.30" r="2.75" fill="#ff0000"/>
<text transform="translate(603.00,323.30) scale(0.945,1)" font-family="'Liberation Serif', serif" font-weight="bold" font-size="15">5x10<tspan font-size="10.5" dy="-6" dx="-0.7">-6</tspan><tspan dy="6" dx="-1.3"> M</tspan></text>
<line x1="592.00" y1="338.40" x2="602.00" y2="338.40" stroke="#0000ff" stroke-width="2.8"/>
<path d="M597.00,334.10 L601.09,340.98 L592.91,340.98Z" fill="#0000ff"/>
<text transform="translate(603.00,343.40) scale(0.945,1)" font-family="'Liberation Serif', serif" font-weight="bold" font-size="15">1x10<tspan font-size="10.5" dy="-6" dx="-0.7">-4</tspan><tspan dy="6" dx="-1.3"> M</tspan></text>
<line x1="592.00" y1="357.00" x2="602.00" y2="357.00" stroke="#ff00ff" stroke-width="2.8"/>
<path d="M597.00,361.30 L601.09,354.42 L592.91,354.42Z" fill="#ff00ff"/>
<text transform="translate(603.00,362.00) scale(0.945,1)" font-family="'Liberation Serif', serif" font-weight="bold" font-size="15">1x10<tspan font-size="10.5" dy="-6" dx="-0.7">-3</tspan><tspan dy="6" dx="-1.3"> M</tspan></text>
<line x1="592.00" y1="375.60" x2="602.00" y2="375.60" stroke="#008000" stroke-width="2.8"/>
<path d="M597.00,371.60 L601.00,375.60 L597.00,379.60 L593.00,375.60Z" fill="#008000"/>
<text transform="translate(603.00,380.60) scale(0.945,1)" font-family="'Liberation Serif', serif" font-weight="bold" font-size="15">5x10<tspan font-size="10.5" dy="-6" dx="-0.7">-3</tspan><tspan dy="6" dx="-1.3"> M</tspan></text>
<line x1="592.00" y1="394.60" x2="602.00" y2="394.60" stroke="#000080" stroke-width="2.8"/>
<path d="M592.70,394.60 L599.58,390.52 L599.58,398.69Z" fill="#000080"/>
<text transform="translate(603.00,399.60) scale(0.945,1)" font-family="'Liberation Serif', serif" font-weight="bold" font-size="15">1x10<tspan font-size="10.5" dy="-6" dx="-0.7">-2</tspan><tspan dy="6" dx="-1.3"> M</tspan></text>
</svg>
</body></html>
